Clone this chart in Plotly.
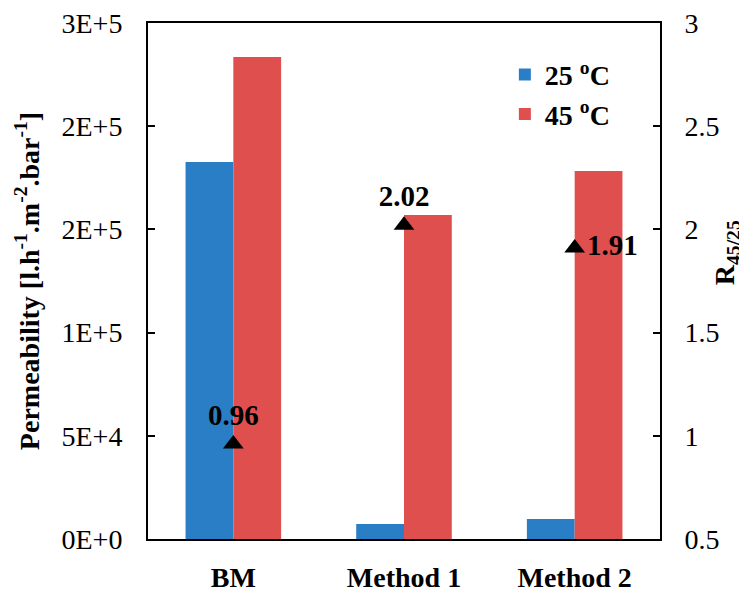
import plotly.graph_objects as go

categories = ["BM", "Method 1", "Method 2"]
perm_25 = [182600, 7300, 9700]
perm_45 = [233500, 157000, 178300]
ratio = [0.96, 2.02, 1.91]
ratio_labels = ["0.96", "2.02", "1.91"]
ratio_label_pos = ["top center", "top center", "middle right"]
left_tickvals = [0, 50000, 100000, 150000, 200000, 250000]
left_ticktext = ["0E+0", "5E+4", "1E+5", "2E+5", "2E+5", "3E+5"]
right_tickvals = [0.5, 1, 1.5, 2, 2.5, 3]
right_ticktext = ["0.5", "1", "1.5", "2", "2.5", "3"]

FONT = "Liberation Serif, Times New Roman, serif"
BLUE = "#2A7EC6"
RED = "#DF4F4D"
FS = 28

fig = go.Figure()
fig.add_trace(go.Bar(x=categories, y=perm_25, name="<b>25 <sup>o</sup>C</b>",
                     marker=dict(color=BLUE, line=dict(width=0))))
fig.add_trace(go.Bar(x=categories, y=perm_45, name="<b>45 <sup>o</sup>C</b>",
                     marker=dict(color=RED, line=dict(width=0))))
fig.add_trace(go.Scatter(x=categories, y=ratio, yaxis="y2", mode="markers+text",
                         marker=dict(symbol="triangle-up", color="black", size=18),
                         text=["<b>%s</b>" % t for t in ratio_labels],
                         textposition=ratio_label_pos,
                         textfont=dict(family=FONT, size=29, color="black"),
                         showlegend=False, cliponaxis=False))

# the page body has an 8px margin, so the figure is 8px smaller and margins shifted
fig.update_layout(
    width=739, height=584,
    margin=dict(l=140, r=87, t=15, b=53, autoexpand=False),
    paper_bgcolor="white", plot_bgcolor="white",
    barmode="group", bargap=0.44, bargroupgap=0,
    font=dict(family=FONT, size=FS, color="black"),
    xaxis=dict(range=[-0.5, 2.5], showline=True, linecolor="black", linewidth=2,
               mirror=True, ticks="", ticklabelstandoff=12, automargin=False,
               ticklabeloverflow="allow",
               tickfont=dict(family=FONT, size=FS, color="black"),
               tickvals=categories,
               ticktext=["<b>%s</b>" % c for c in categories]),
    yaxis=dict(range=[0, 250000], tickvals=left_tickvals, ticktext=left_ticktext,
               showline=True, linecolor="black", linewidth=2, ticks="inside",
               ticklen=7, tickwidth=1.5, tickcolor="black", showgrid=False,
               zeroline=False, ticklabelstandoff=18, automargin=False,
               ticklabeloverflow="allow",
               tickfont=dict(family=FONT, size=FS, color="black"),
               title=dict(text="<b>Permeability [l.h<sup>-1</sup>.m<sup>-2</sup>.bar<sup>-1</sup>]</b>",
                          font=dict(family=FONT, size=FS, color="black"), standoff=14)),
    yaxis2=dict(range=[0.5, 3], tickvals=right_tickvals, ticktext=right_ticktext,
                overlaying="y", side="right", showline=True, linecolor="black",
                linewidth=2, ticks="inside", ticklen=7, tickwidth=1.5, tickcolor="black",
                showgrid=False, zeroline=False, ticklabelstandoff=17, automargin=False,
                ticklabeloverflow="allow",
                tickfont=dict(family=FONT, size=FS, color="black")),
    annotations=[dict(text="<b>R<sub>45/25</sub></b>", xref="paper", yref="paper",
                      x=1.130, y=0.555, xanchor="center", yanchor="middle",
                      textangle=-90, showarrow=False,
                      font=dict(family=FONT, size=FS, color="black"))],
    legend=dict(x=0.697, y=0.948, xanchor="left", yanchor="top",
                bgcolor="rgba(0,0,0,0)", font=dict(family=FONT, size=FS, color="black"),
                itemsizing="constant", tracegroupgap=0),
    showlegend=True,
)

fig.write_html("out.html")
